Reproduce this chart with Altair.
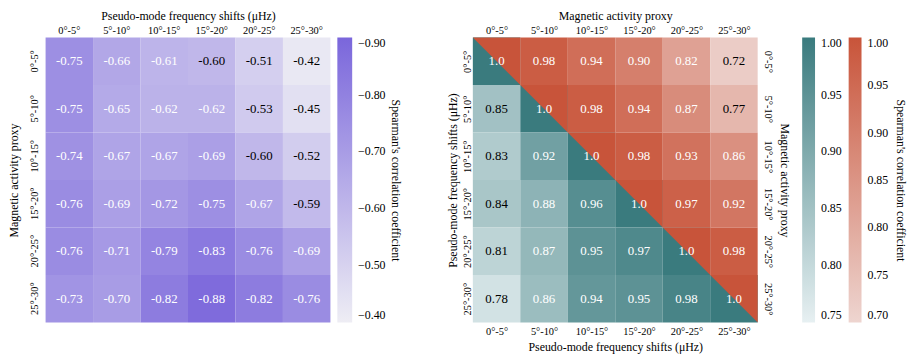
import json
import numpy as np
import pandas as pd
import altair as alt

FONT = "Liberation Serif"

bins = ["0°-5°", "5°-10°", "10°-15°", "15°-20°", "20°-25°", "25°-30°"]

# Left panel: rows = magnetic activity proxy, columns = pseudo-mode frequency shifts
cross_rows = [
    [-0.75, -0.66, -0.61, -0.60, -0.51, -0.42],
    [-0.75, -0.65, -0.62, -0.62, -0.53, -0.45],
    [-0.74, -0.67, -0.67, -0.69, -0.60, -0.52],
    [-0.76, -0.69, -0.72, -0.75, -0.67, -0.59],
    [-0.76, -0.71, -0.79, -0.83, -0.76, -0.69],
    [-0.73, -0.70, -0.82, -0.88, -0.82, -0.76],
]

# Right panel, upper triangle (magnetic activity proxy), row i starts at column i
mag_rows = [
    [1.0, 0.98, 0.94, 0.90, 0.82, 0.72],
    [1.0, 0.98, 0.94, 0.87, 0.77],
    [1.0, 0.98, 0.93, 0.86],
    [1.0, 0.97, 0.92],
    [1.0, 0.98],
    [1.0],
]

# Right panel, lower triangle (pseudo-mode frequency shifts), row i covers columns 0..i
freq_rows = [
    [1.0],
    [0.85, 1.0],
    [0.83, 0.92, 1.0],
    [0.84, 0.88, 0.96, 1.0],
    [0.81, 0.87, 0.95, 0.97, 1.0],
    [0.78, 0.86, 0.94, 0.95, 0.98, 1.0],
]

left_ticks = [-0.90, -0.80, -0.70, -0.60, -0.50, -0.40]
teal_ticks = [0.75, 0.80, 0.85, 0.90, 0.95, 1.00]
red_ticks = [0.70, 0.75, 0.80, 0.85, 0.90, 0.95, 1.00]

PURPLE = ["#7a66db", "#eeedf4"]   # dark, light
TEAL = ["#3a7b7e", "#e7f0f2"]
RED = ["#c8543a", "#eed5d0"]

LEFT_DARK_TEXT = -0.605
TEAL_DARK_TEXT = 0.855
RED_DARK_TEXT = 0.80

CELL = 288
CB_TITLE = "Spearman's correlation coefficient"


def cbar_legend(x, thick, ticks):
    return alt.Legend(
        orient="none", legendX=x, legendY=0, direction="vertical", title=None,
        gradientLength=CELL, gradientThickness=thick, values=ticks, format=".2f",
        labelOffset=6, labelFontSize=12, labelFont=FONT, labelColor="black",
    )


def title_axis(offset):
    return alt.Axis(orient="right", labels=False, ticks=False, domain=False, grid=False,
                    title=CB_TITLE, offset=offset, titlePadding=0)


# ---------------- left panel ----------------
left_df = pd.DataFrame(
    [{"row": bins[i], "col": bins[j], "v": cross_rows[i][j]} for i in range(6) for j in range(6)]
)
left_df["ink"] = np.where(left_df["v"] > LEFT_DARK_TEXT, "k", "w")
left_df["lab"] = left_df["v"].map(lambda v: f"{v:.2f}")

band = alt.Scale(paddingInner=0, paddingOuter=0)
left_rect = alt.Chart(left_df).mark_rect().encode(
    x=alt.X("col:N", sort=bins, scale=band, axis=alt.Axis(
        orient="top", title="Pseudo-mode frequency shifts (μHz)", labelAngle=0,
        labelPadding=2, titlePadding=3)),
    y=alt.Y("row:N", sort=bins, scale=band, axis=alt.Axis(
        title="Magnetic activity proxy", labelAngle=-90, labelPadding=6, titlePadding=9)),
    color=alt.Color("v:Q",
                    scale=alt.Scale(domain=[left_ticks[-1], left_ticks[0]], range=PURPLE[::-1],
                                    interpolate="rgb"),
                    legend=cbar_legend(CELL + 7, 15, left_ticks)),
)
left_text = alt.Chart(left_df).mark_text(font=FONT, fontSize=13).encode(
    x=alt.X("col:N", sort=bins, scale=band, axis=None),
    y=alt.Y("row:N", sort=bins, scale=band, axis=title_axis(59)),
    text="lab:N",
    color=alt.condition("datum.ink == 'k'", alt.value("black"), alt.value("white")),
)
left = (
    alt.layer(left_rect, left_text)
    .resolve_axis(x="independent", y="independent")
    .properties(width=CELL, height=CELL)
)

# ---------------- right panel ----------------
teal_recs, red_recs, tri_recs, text_recs = [], [], [], []
for i in range(6):
    for j, v in enumerate(freq_rows[i]):
        teal_recs.append({"xs": j, "xe": j + 1, "ys": i, "ye": i + 1, "v": v})
        if j < i:
            text_recs.append({"xc": j + 0.5, "yc": i + 0.5, "lab": f"{v:.2f}",
                              "ink": "k" if v < TEAL_DARK_TEXT else "w"})
    for k, v in enumerate(mag_rows[i]):
        j = i + k
        if j == i:
            tri_recs.append({"cell": i, "x": j, "top": i, "bot": i, "v": v})
            tri_recs.append({"cell": i, "x": j + 1, "top": i, "bot": i + 1, "v": v})
            text_recs.append({"xc": j + 0.5, "yc": i + 0.5, "lab": "1.0", "ink": "w"})
        else:
            red_recs.append({"xs": j, "xe": j + 1, "ys": i, "ye": i + 1, "v": v})
            text_recs.append({"xc": j + 0.5, "yc": i + 0.5, "lab": f"{v:.2f}",
                              "ink": "k" if v < RED_DARK_TEXT else "w"})

teal_df = pd.DataFrame(teal_recs)
red_df = pd.DataFrame(red_recs)
tri_df = pd.DataFrame(tri_recs)
txt_df = pd.DataFrame(text_recs)

centers = [k + 0.5 for k in range(6)]
label_expr = f"{json.dumps(bins, ensure_ascii=False)}[floor(datum.value)]"
xscale = alt.Scale(domain=[0, 6], nice=False, zero=False)
yscale = alt.Scale(domain=[0, 6], nice=False, zero=False, reverse=True)

teal_scale = alt.Scale(domain=[teal_ticks[0], teal_ticks[-1]], range=TEAL[::-1], interpolate="rgb")
red_scale = alt.Scale(domain=[red_ticks[0], red_ticks[-1]], range=RED[::-1], interpolate="rgb")

teal_layer = alt.Chart(teal_df).mark_rect().encode(
    x=alt.X("xs:Q", scale=xscale, axis=alt.Axis(
        orient="top", values=centers, labelExpr=label_expr, title="Magnetic activity proxy",
        labelPadding=2, titlePadding=3, labelFlush=False, labelOverlap=False)),
    x2="xe:Q",
    y=alt.Y("ys:Q", scale=yscale, axis=alt.Axis(
        orient="left", values=centers, labelExpr=label_expr, labelAngle=-90,
        title="Pseudo-mode frequency shifts (μHz)", labelPadding=0, titlePadding=4,
        labelFlush=False, labelOverlap=False)),
    y2="ye:Q",
    color=alt.Color("v:Q", scale=teal_scale, legend=cbar_legend(CELL + 45, 13, teal_ticks)),
)

red_layer = alt.Chart(red_df).mark_rect().encode(
    x=alt.X("xs:Q", scale=xscale, axis=alt.Axis(
        orient="bottom", values=centers, labelExpr=label_expr,
        title="Pseudo-mode frequency shifts (μHz)", labelPadding=4, titlePadding=5,
        labelFlush=False, labelOverlap=False)),
    x2="xe:Q",
    y=alt.Y("ys:Q", scale=yscale, axis=alt.Axis(
        orient="right", values=centers, labelExpr=label_expr, labelAngle=90,
        title="Magnetic activity proxy", labelPadding=5, titlePadding=5,
        labelFlush=False, labelOverlap=False)),
    y2="ye:Q",
    color=alt.Color("v:Q", scale=red_scale, legend=cbar_legend(CELL + 92, 13, red_ticks)),
)

tri_layer = alt.Chart(tri_df).mark_area(interpolate="linear").encode(
    x=alt.X("x:Q", scale=xscale, axis=None),
    y=alt.Y("top:Q", scale=yscale, axis=None, stack=None),
    y2="bot:Q",
    detail="cell:N",
    color=alt.Color("v:Q", scale=red_scale, legend=None),
)

txt_layer = alt.Chart(txt_df).mark_text(font=FONT, fontSize=13).encode(
    x=alt.X("xc:Q", scale=xscale, axis=None),
    y=alt.Y("yc:Q", scale=yscale, axis=title_axis(137)),
    text="lab:N",
    color=alt.condition("datum.ink == 'k'", alt.value("black"), alt.value("white")),
)

right = (
    alt.layer(teal_layer, red_layer, tri_layer, txt_layer)
    .resolve_scale(color="independent")
    .resolve_axis(x="independent", y="independent")
    .properties(width=CELL, height=CELL)
)

chart = (
    alt.hconcat(left, right, spacing=45)
    .resolve_scale(color="independent")
    .properties(padding={"left": 0, "top": 0, "right": 2, "bottom": 0})
    .configure_view(stroke=None)
    .configure_axis(
        labelFont=FONT, titleFont=FONT, labelFontSize=10.5, titleFontSize=12,
        titleFontWeight="normal", labelColor="black", titleColor="black",
        ticks=False, domain=False, grid=False,
    )
)

chart.save("out.html", embed_options={"renderer": "svg", "actions": False})
